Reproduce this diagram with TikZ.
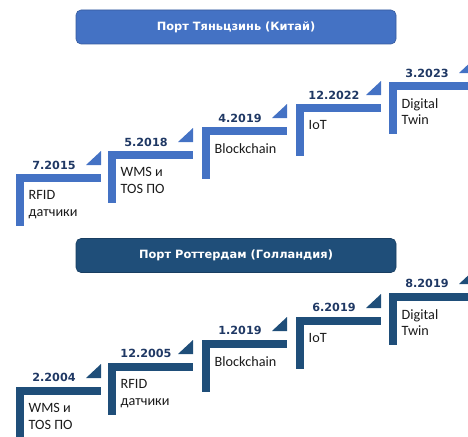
\documentclass[tikz,border=0pt]{standalone}
\usepackage{fontspec}
\setmainfont{Carlito}
\newfontfamily\datefont{DejaVu Sans}
\usetikzlibrary{positioning}

\definecolor{stepblue}{HTML}{4472C4}
\definecolor{stepnavy}{HTML}{1F4E79}
\definecolor{datenavy}{HTML}{1F3864}
\definecolor{textgray}{HTML}{1A1A1A}

\tikzset{
  titlebox/.style={minimum width=320pt, minimum height=34pt, rounded corners=5pt,
    inner sep=0pt, text=white, line width=0.6pt,
    font=\datefont\bfseries\fontsize{11.4}{13}\selectfont},
  datelabel/.style={inner sep=0pt, text=datenavy,
    font=\datefont\bfseries\fontsize{11.2}{13}\selectfont},
  steptext/.style={inner sep=0pt, anchor=north west, align=left, text=textgray,
    font=\fontsize{14.2}{16.8}\selectfont}
}

\begin{document}
\begin{tikzpicture}[x=1pt, y=-1pt]
  \useasboundingbox (0,0) rectangle (468,436);

  % headers
  \node[titlebox, fill=stepblue, draw=stepblue!80!black] (tianjin) at (236,27) {Порт Тяньцзинь (Китай)};
  \node[titlebox, fill=stepnavy, draw=stepnavy!80!black] (rotterdam) at (236,255.5) {Порт Роттердам (Голландия)};

  % Tianjin steps
  \foreach \i/\x/\y/\d/\t in {1/16/174/7.2015/{RFID\\датчики}, 2/108/151/5.2018/{WMS и\\TOS ПО},
      3/202/127/4.2019/Blockchain, 4/296/104/12.2022/IoT, 5/389/82/3.2023/{Digital\\Twin}} {
    \fill[stepblue] (\x,\y) rectangle ++(85,8);
    \fill[stepblue] (\x,\y) rectangle ++(8,52);
    \fill[stepblue] (\x+70,\y-9) -- ++(15,0) -- ++(0,-14) -- cycle;
    \node[datelabel] (td\i) at (\x+38,\y-9) {\d};
    \node[steptext] (tt\i) at (\x+12.5,\y+16) {\t};
  }

  % Rotterdam steps
  \foreach \i/\x/\y/\d/\t in {1/16/387/2.2004/{WMS и\\TOS ПО}, 2/108/363/12.2005/{RFID\\датчики},
      3/202/340/1.2019/Blockchain, 4/296/317/6.2019/IoT, 5/389/293/8.2019/{Digital\\Twin}} {
    \fill[stepnavy] (\x,\y) rectangle ++(85,8);
    \fill[stepnavy] (\x,\y) rectangle ++(8,52);
    \fill[stepnavy] (\x+70,\y-9) -- ++(15,0) -- ++(0,-14) -- cycle;
    \node[datelabel] (rd\i) at (\x+38,\y-10) {\d};
    \node[steptext] (rt\i) at (\x+12.5,\y+16) {\t};
  }
\end{tikzpicture}
\end{document}
